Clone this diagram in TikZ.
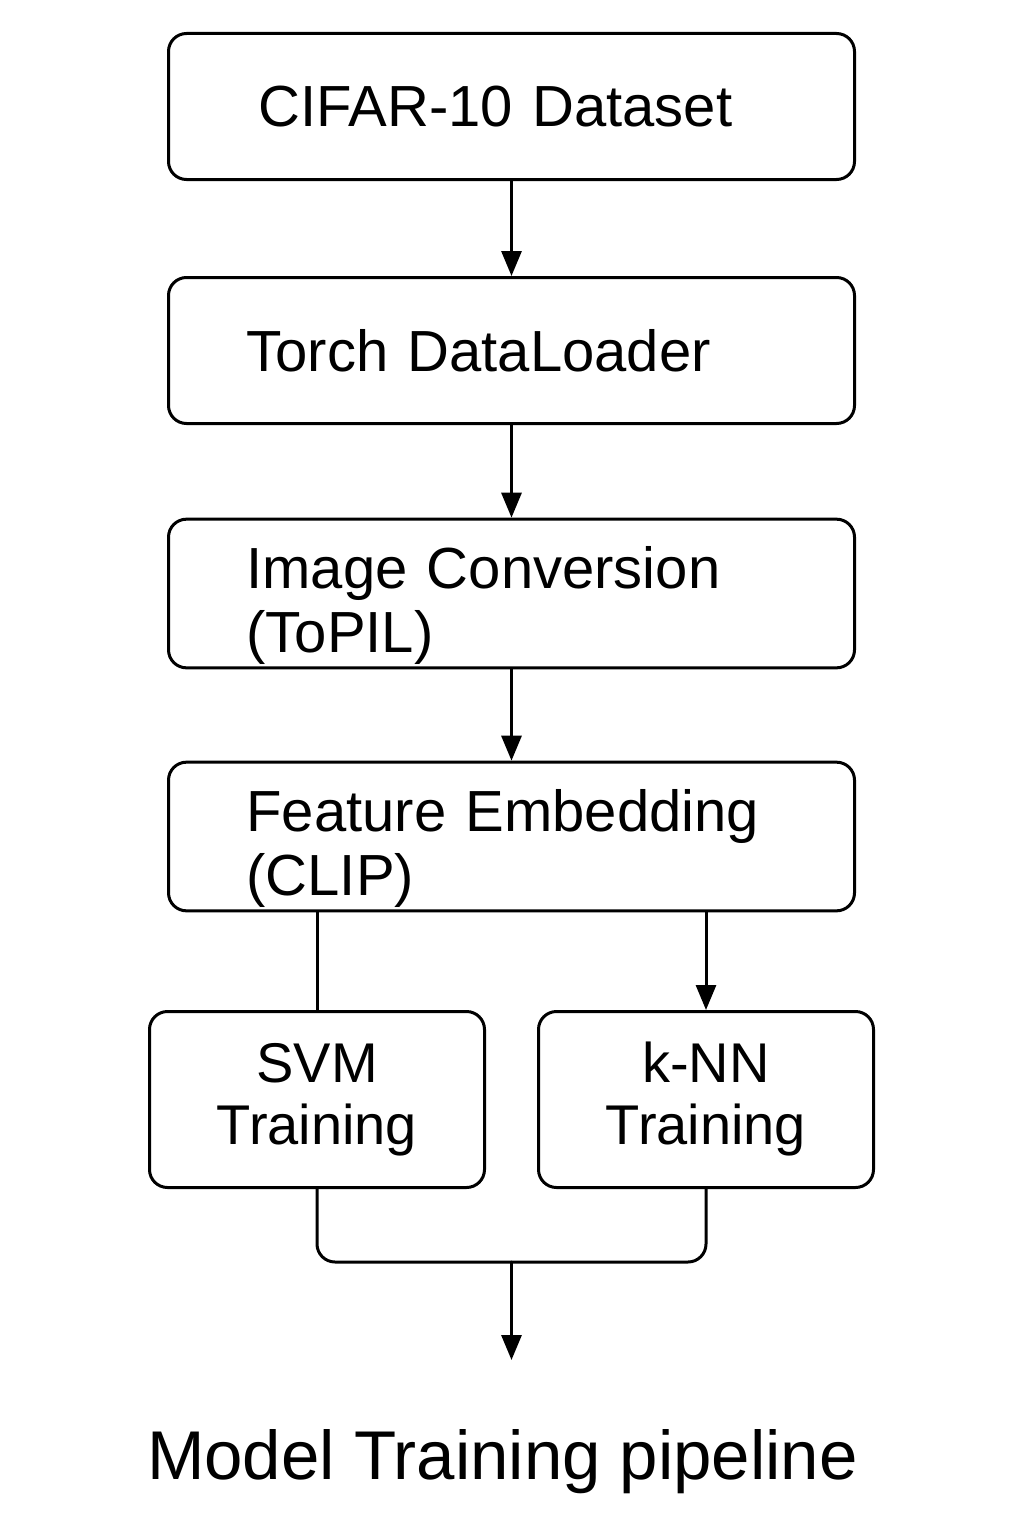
\documentclass[tikz,border=0pt]{standalone}
\usepackage{fontspec}
\setmainfont{Liberation Sans}
\usetikzlibrary{arrows.meta}

\begin{document}
\begin{tikzpicture}[line cap=round,line join=round,>={Triangle[length=25pt,width=20pt]},x=1pt,y=-1pt,
  stepbox/.style={draw,line width=3pt,rounded corners=18pt,minimum height=146pt,inner xsep=78pt,text width=530pt,align=left,font=\fontsize{58pt}{64pt}\selectfont},
  twoline/.style={text height=66pt},
  trainbox/.style={draw,line width=3pt,rounded corners=18pt,minimum width=335pt,minimum height=176pt,align=center,font=\fontsize{56pt}{62pt}\selectfont},
  link/.style={line width=3pt}]
\useasboundingbox (0,0) rectangle (1024,1536);
%laatikot
\node[stepbox,inner xsep=90pt,text width=506pt] (cifar) at (511.5,106.5) {CIFAR-10 Dataset};
\node[stepbox] (loader) at (511.5,350.5) {Torch DataLoader};
\node[stepbox,twoline] (topil) at (511.5,593.5) {Image Conversion\\(ToPIL)};
\node[stepbox,twoline] (clip) at (511.5,836.5) {Feature Embedding\\(CLIP)};
\node[trainbox] (svm) at (317,1099.5) {SVM\\Training};
\node[trainbox] (knn) at (706,1099.5) {k-NN\\Training};

%nuolet
\draw[link,->] (cifar) -- (loader);
\draw[link,->] (loader) -- (topil);
\draw[link,->] (topil) -- (clip);
\draw[link] (svm |- clip.south) -- (svm);
\draw[link,->] (knn |- clip.south) -- (knn);

%yhdistys
\coordinate (join) at (511.5,1262);
\coordinate (out) at (511.5,1360);
\draw[link,rounded corners=18pt] (svm) |- (join) -| (knn);
\draw[link,->] (join) -- (out);

\node[font=\fontsize{69pt}{80pt}\selectfont,anchor=base] (title) at (502.5,1479) {Model Training pipeline};
\end{tikzpicture}
\end{document}
